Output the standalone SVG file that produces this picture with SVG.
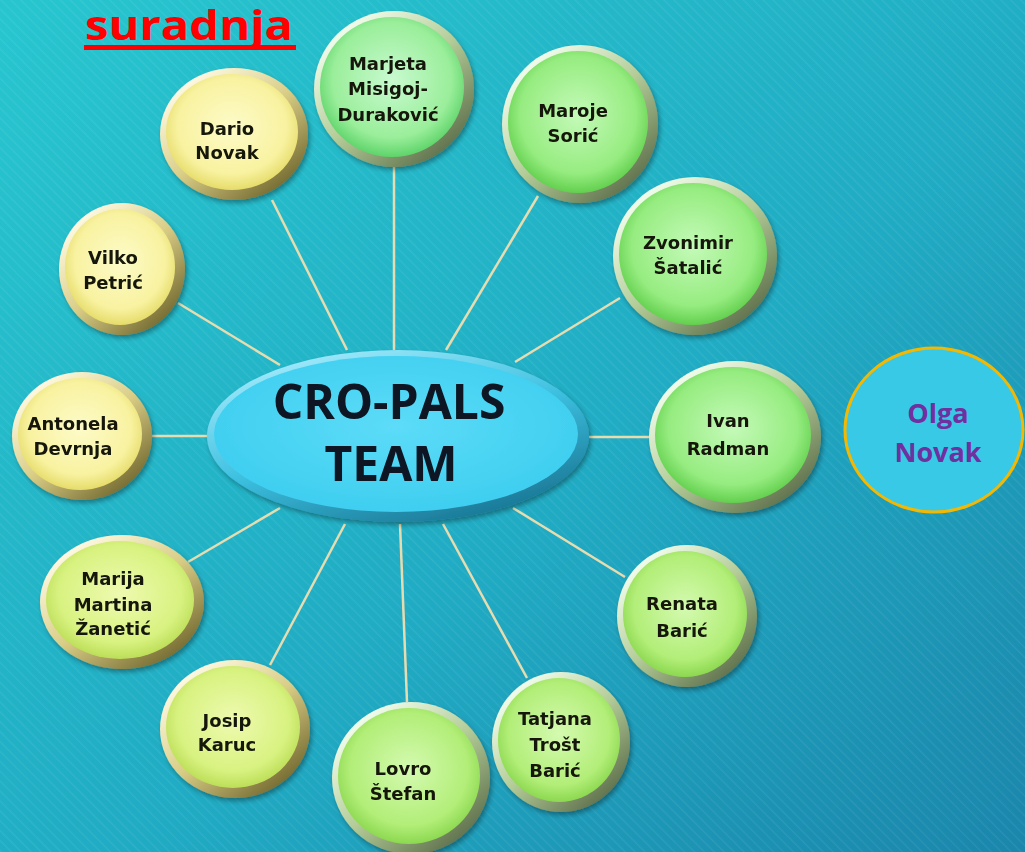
<svg xmlns="http://www.w3.org/2000/svg" width="1025" height="852" viewBox="0 0 1025 852">
<defs>
<linearGradient id="bg" x1="0" y1="0" x2="1" y2="1">
<stop offset="0" stop-color="#27c6cf"/>
<stop offset="0.55" stop-color="#20acc4"/>
<stop offset="1" stop-color="#1a86ab"/>
</linearGradient>
<pattern id="stripes" patternUnits="userSpaceOnUse" width="7" height="7" patternTransform="rotate(-45)">
<line x1="0" y1="0" x2="0" y2="7" stroke="#ffffff" stroke-opacity="0.07" stroke-width="2.5"/>
</pattern>
<linearGradient id="rimY" x1="0.15" y1="0.1" x2="0.85" y2="0.9">
<stop offset="0" stop-color="#fffbe6"/>
<stop offset="0.5" stop-color="#d9cd86"/>
<stop offset="1" stop-color="#746a30"/>
</linearGradient>
<linearGradient id="rimG" x1="0.15" y1="0.1" x2="0.85" y2="0.9">
<stop offset="0" stop-color="#f4fff0"/>
<stop offset="0.5" stop-color="#b4cc98"/>
<stop offset="1" stop-color="#5e704c"/>
</linearGradient>
<radialGradient id="fY" cx="0.5" cy="0.45" r="0.55">
<stop offset="0" stop-color="#fdfbc8"/>
<stop offset="0.75" stop-color="#f8f2a0"/>
<stop offset="1" stop-color="#e6dc6a"/>
</radialGradient>
<radialGradient id="fYG" cx="0.5" cy="0.45" r="0.55">
<stop offset="0" stop-color="#eefab0"/>
<stop offset="0.75" stop-color="#d8f280"/>
<stop offset="1" stop-color="#bcde58"/>
</radialGradient>
<radialGradient id="fLG" cx="0.5" cy="0.45" r="0.55">
<stop offset="0" stop-color="#d4fab0"/>
<stop offset="0.75" stop-color="#b2ee78"/>
<stop offset="1" stop-color="#8cd850"/>
</radialGradient>
<radialGradient id="fG" cx="0.5" cy="0.45" r="0.55">
<stop offset="0" stop-color="#c4fab8"/>
<stop offset="0.75" stop-color="#96ec80"/>
<stop offset="1" stop-color="#62d04e"/>
</radialGradient>
<radialGradient id="fMG" cx="0.5" cy="0.45" r="0.55">
<stop offset="0" stop-color="#c8fad0"/>
<stop offset="0.75" stop-color="#9aee9a"/>
<stop offset="1" stop-color="#5ed46a"/>
</radialGradient>
<linearGradient id="rimC" x1="0.2" y1="0" x2="0.8" y2="1">
<stop offset="0" stop-color="#a8ecfc"/>
<stop offset="0.5" stop-color="#3cc0e0"/>
<stop offset="1" stop-color="#17708e"/>
</linearGradient>
<radialGradient id="fC" cx="0.5" cy="0.45" r="0.6">
<stop offset="0" stop-color="#5cdcf8"/>
<stop offset="1" stop-color="#3ccdef"/>
</radialGradient>
<filter id="sh" x="-20%" y="-20%" width="140%" height="140%">
<feGaussianBlur in="SourceAlpha" stdDeviation="2.5"/>
<feOffset dx="2" dy="3" result="b"/>
<feComponentTransfer><feFuncA type="linear" slope="0.35"/></feComponentTransfer>
<feMerge><feMergeNode/><feMergeNode in="SourceGraphic"/></feMerge>
</filter>
</defs>
<style>
.lbl{font-family:"DejaVu Sans","Liberation Sans",sans-serif;font-weight:bold;font-size:18px;fill:#121608;text-anchor:middle}
.con{stroke:#e6dcb0;stroke-width:2.5;fill:none}
.rimY{fill:url(#rimY)}
.rimG{fill:url(#rimG)}
.node{filter:url(#sh)}
.ctr{font-family:"Open Sans","Liberation Sans",sans-serif;font-weight:bold;font-size:48px;fill:#0b1622;text-anchor:middle}
.olga{font-family:"Open Sans","Liberation Sans",sans-serif;font-weight:bold;font-size:27px;fill:#7030a0;text-anchor:middle}
</style>
<rect width="1025" height="852" fill="url(#bg)"/>
<rect width="1025" height="852" fill="url(#stripes)"/>

<g id="title">
<text x="189" y="40" font-family="Open Sans, Liberation Sans, sans-serif" font-weight="bold" font-size="42" fill="#ff0000" text-anchor="middle" textLength="208" lengthAdjust="spacingAndGlyphs">suradnja</text>
<rect x="84" y="45" width="212" height="5" fill="#ff0000"/>
</g>

<g id="connectors">
<line class="con" x1="394" y1="166" x2="394" y2="350"/>
<line class="con" x1="272" y1="200" x2="347" y2="350"/>
<line class="con" x1="178" y1="303" x2="280" y2="365"/>
<line class="con" x1="150" y1="436" x2="208" y2="436"/>
<line class="con" x1="188" y1="562" x2="280" y2="508"/>
<line class="con" x1="270" y1="665" x2="345" y2="524"/>
<line class="con" x1="407" y1="702" x2="400" y2="524"/>
<line class="con" x1="527" y1="678" x2="443" y2="524"/>
<line class="con" x1="625" y1="577" x2="513" y2="508"/>
<line class="con" x1="589" y1="437" x2="650" y2="437"/>
<line class="con" x1="620" y1="298" x2="515" y2="362"/>
<line class="con" x1="538" y1="196" x2="446" y2="350"/>
</g>

<g id="center" class="node">
<ellipse cx="398" cy="436" rx="191" ry="86" fill="url(#rimC)"/>
<ellipse cx="396" cy="434" rx="182" ry="78" fill="url(#fC)"/>
<text class="ctr" x="389" y="419">CRO-PALS</text>
<text class="ctr" x="391" y="481">TEAM</text>
</g>

<g id="n-marjeta" class="node">
<ellipse class="rimG" cx="394" cy="89" rx="80" ry="78"/>
<ellipse cx="392" cy="87" rx="72" ry="70" fill="url(#fMG)"/>
<text class="lbl" x="388" y="70">Marjeta</text>
<text class="lbl" x="388" y="95">Misigoj-</text>
<text class="lbl" x="388" y="121">Duraković</text>
</g>

<g id="n-dario" class="node">
<ellipse class="rimY" cx="234" cy="134" rx="74" ry="66"/>
<ellipse cx="232" cy="132" rx="66" ry="58" fill="url(#fY)"/>
<text class="lbl" x="227" y="135">Dario</text>
<text class="lbl" x="227" y="159">Novak</text>
</g>

<g id="n-vilko" class="node">
<ellipse class="rimY" cx="122" cy="269" rx="63" ry="66"/>
<ellipse cx="120" cy="267" rx="55" ry="58" fill="url(#fY)"/>
<text class="lbl" x="113" y="264">Vilko</text>
<text class="lbl" x="113" y="289">Petrić</text>
</g>

<g id="n-antonela" class="node">
<ellipse class="rimY" cx="82" cy="436" rx="70" ry="64"/>
<ellipse cx="80" cy="434" rx="62" ry="56" fill="url(#fY)"/>
<text class="lbl" x="73" y="430">Antonela</text>
<text class="lbl" x="73" y="455">Devrnja</text>
</g>

<g id="n-marija" class="node">
<ellipse class="rimY" cx="122" cy="602" rx="82" ry="67"/>
<ellipse cx="120" cy="600" rx="74" ry="59" fill="url(#fYG)"/>
<text class="lbl" x="113" y="585">Marija</text>
<text class="lbl" x="113" y="611">Martina</text>
<text class="lbl" x="113" y="635">Žanetić</text>
</g>

<g id="n-josip" class="node">
<ellipse class="rimY" cx="235" cy="729" rx="75" ry="69"/>
<ellipse cx="233" cy="727" rx="67" ry="61" fill="url(#fYG)"/>
<text class="lbl" x="227" y="727">Josip</text>
<text class="lbl" x="227" y="751">Karuc</text>
</g>

<g id="n-lovro" class="node">
<ellipse class="rimG" cx="411" cy="778" rx="79" ry="76"/>
<ellipse cx="409" cy="776" rx="71" ry="68" fill="url(#fLG)"/>
<text class="lbl" x="403" y="775">Lovro</text>
<text class="lbl" x="403" y="800">Štefan</text>
</g>

<g id="n-tatjana" class="node">
<ellipse class="rimG" cx="561" cy="742" rx="69" ry="70"/>
<ellipse cx="559" cy="740" rx="61" ry="62" fill="url(#fLG)"/>
<text class="lbl" x="555" y="725">Tatjana</text>
<text class="lbl" x="555" y="751">Trošt</text>
<text class="lbl" x="555" y="777">Barić</text>
</g>

<g id="n-renata" class="node">
<ellipse class="rimG" cx="687" cy="616" rx="70" ry="71"/>
<ellipse cx="685" cy="614" rx="62" ry="63" fill="url(#fLG)"/>
<text class="lbl" x="682" y="610">Renata</text>
<text class="lbl" x="682" y="637">Barić</text>
</g>

<g id="n-ivan" class="node">
<ellipse class="rimG" cx="735" cy="437" rx="86" ry="76"/>
<ellipse cx="733" cy="435" rx="78" ry="68" fill="url(#fG)"/>
<text class="lbl" x="728" y="427">Ivan</text>
<text class="lbl" x="728" y="455">Radman</text>
</g>

<g id="n-zvonimir" class="node">
<ellipse class="rimG" cx="695" cy="256" rx="82" ry="79"/>
<ellipse cx="693" cy="254" rx="74" ry="71" fill="url(#fG)"/>
<text class="lbl" x="688" y="249">Zvonimir</text>
<text class="lbl" x="688" y="274">Šatalić</text>
</g>

<g id="n-maroje" class="node">
<ellipse class="rimG" cx="580" cy="124" rx="78" ry="79"/>
<ellipse cx="578" cy="122" rx="70" ry="71" fill="url(#fG)"/>
<text class="lbl" x="573" y="117">Maroje</text>
<text class="lbl" x="573" y="142">Sorić</text>
</g>

<g id="n-olga">
<ellipse cx="934" cy="430" rx="89" ry="82" fill="#38c9e6" stroke="#f5b800" stroke-width="3"/>
<text class="olga" x="938" y="423">Olga</text>
<text class="olga" x="938" y="462">Novak</text>
</g>
</svg>
